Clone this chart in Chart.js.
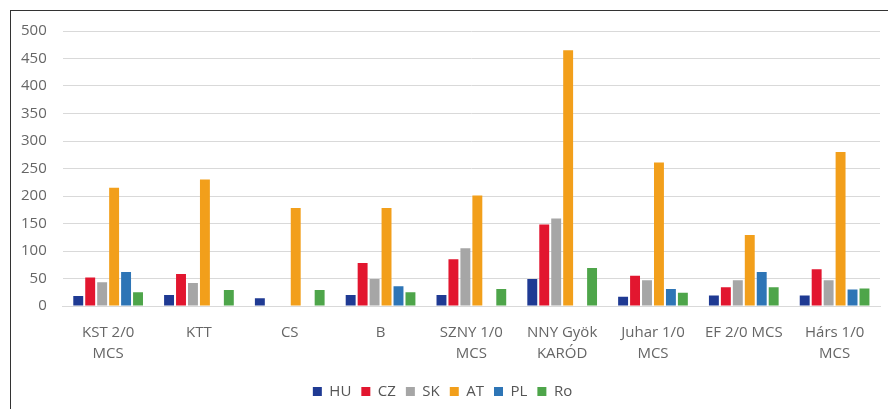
<!DOCTYPE html>
<html>
<head>
<meta charset="utf-8">
<script src="https://cdn.jsdelivr.net/npm/chart.js@4"></script>
<style>
  html, body { margin: 0; padding: 0; background: #fff; }
  #wrap { position: relative; width: 888px; height: 409px; overflow: hidden; }
  #frame { position: absolute; left: 10px; top: 10px; width: 900px; height: 420px;
           border-left: 1px solid #333; border-top: 1px solid #333; }
  canvas { position: absolute; left: 0; top: 0; }
</style>
</head>
<body>
<div id="wrap">
  <div id="frame"></div>
  <canvas id="chart" width="888" height="409"></canvas>
</div>
<script>
// categories (multi-line labels)
var categories = [
  ["KST 2/0", "MCS"], "KTT", "CS", "B", ["SZNY 1/0", "MCS"],
  ["NNY Gyök", "KARÓD"], ["Juhar 1/0", "MCS"], "EF 2/0 MCS", ["Hárs 1/0", "MCS"]
];

// series values
var HU = [18, 20, 14, 20, 20, 49, 17, 19, 19];
var CZ = [52, 58, null, 78, 85, 148, 55, 34, 67];
var SK = [43, 42, null, 49, 105, 159, 47, 47, 47];
var AT = [215, 230, 178, 178, 201, 465, 261, 129, 280];
var PL = [62, null, null, 36, null, null, 31, 62, 30];
var Ro = [25, 29, 29, 25, 31, 69, 24, 34, 32];

var yTicks = [0, 50, 100, 150, 200, 250, 300, 350, 400, 450, 500];

function ds(label, data, color) {
  return { label: label, data: data, backgroundColor: color, borderWidth: 0 };
}

var ctx = document.getElementById("chart");
new Chart(ctx, {
  type: "bar",
  data: {
    labels: categories,
    datasets: [
      ds("HU", HU, "#1f3a93"),
      ds("CZ", CZ, "#e2162f"),
      ds("SK", SK, "#a6a6a6"),
      ds("AT", AT, "#f29f1b"),
      ds("PL", PL, "#2e75b6"),
      ds("Ro", Ro, "#4ea54a")
    ]
  },
  options: {
    responsive: false,
    animation: false,
    layout: { padding: { top: 31, left: 5, right: 8, bottom: 0 } },
    datasets: { bar: { categoryPercentage: 0.79, barPercentage: 0.83 } },
    scales: {
      x: {
        grid: { display: false },
        border: { display: true, color: "#d9d9d9" },
        afterFit: function (axis) { axis.height = 68; },
        ticks: {
          color: "#666",
          font: { family: "Open Sans", size: 15, lineHeight: 1.4 },
          maxRotation: 0,
          autoSkip: false,
          padding: 8
        }
      },
      y: {
        min: 0,
        max: 500,
        afterBuildTicks: function (axis) {
          axis.ticks = yTicks.map(function (v) { return { value: v }; });
        },
        grid: { color: "#d9d9d9", drawTicks: false },
        border: { display: false },
        ticks: {
          color: "#666",
          font: { family: "Open Sans", size: 15 },
          padding: 16
        }
      }
    },
    plugins: {
      legend: {
        position: "bottom",
        labels: {
          color: "#555",
          font: { family: "Open Sans", size: 15 },
          boxWidth: 9,
          boxHeight: 9,
          padding: 10
        }
      },
      tooltip: { enabled: false }
    }
  }
});
</script>
</body>
</html>
